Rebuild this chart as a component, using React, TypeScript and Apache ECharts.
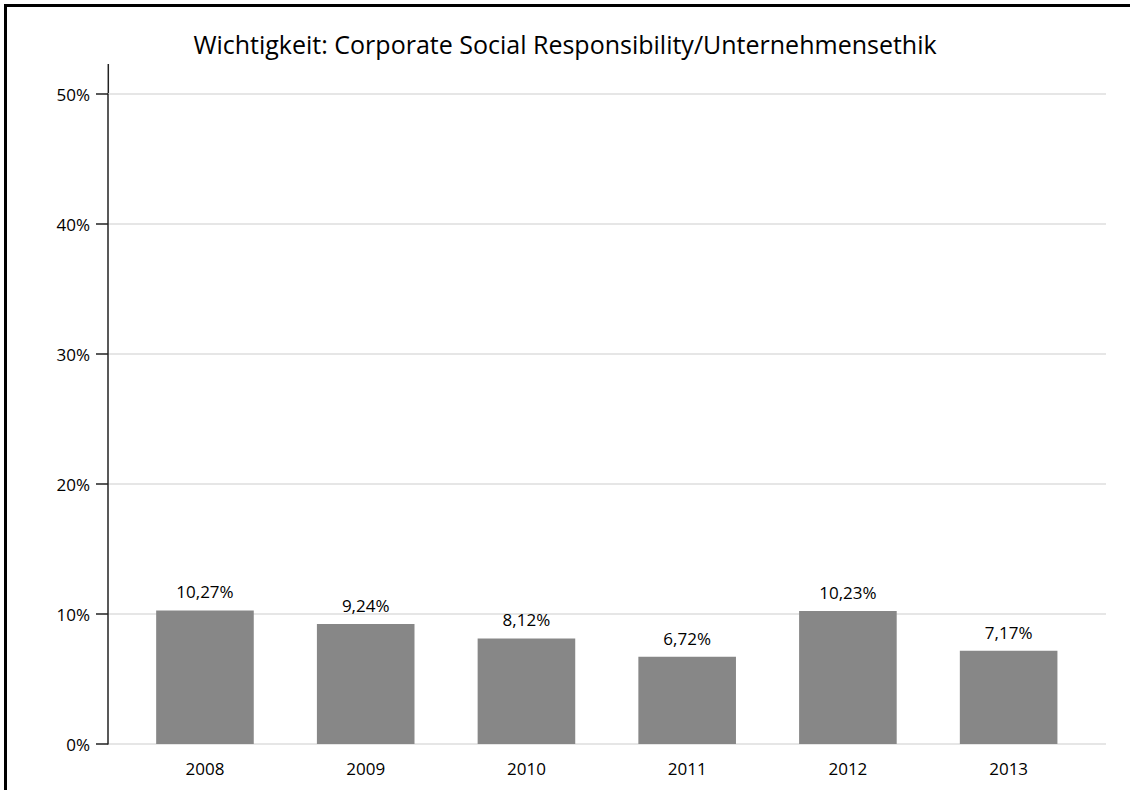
import React, { useEffect, useRef } from "react";
import * as echarts from "echarts";

const titleText = "Wichtigkeit: Corporate Social Responsibility/Unternehmensethik";
const years = ["2008", "2009", "2010", "2011", "2012", "2013"];
const values = [10.27, 9.24, 8.12, 6.72, 10.23, 7.17];
const yTicks = [0, 10, 20, 30, 40, 50];

const FONT = "'Open Sans', 'Noto Sans', sans-serif";

export default function App() {
  const ref = useRef<HTMLDivElement>(null);
  useEffect(() => {
    document.body.style.margin = "0";
    const chart = echarts.init(ref.current!, null, { renderer: "svg" });
    const yMin = yTicks[0];
    const yMax = yTicks[yTicks.length - 1];
    chart.setOption({
      animation: false,
      backgroundColor: "#ffffff",
      title: {
        text: titleText,
        left: 560,
        textAlign: "center",
        top: 26,
        textStyle: { fontFamily: FONT, fontSize: 25, fontWeight: "normal", color: "#000" },
      },
      grid: [
        { left: 108, right: 24, top: 94, bottom: 46 },
        { left: 124.6, right: 41, top: 94, bottom: 46 },
      ],
      xAxis: [
        { type: "category", gridIndex: 0, data: years, show: false },
        {
          type: "category",
          gridIndex: 1,
          data: years,
          axisLine: { show: false },
          axisTick: { show: false },
          axisLabel: { color: "#000", fontSize: 17, fontFamily: FONT, margin: 16 },
        },
      ],
      yAxis: [
        {
          type: "value",
          gridIndex: 0,
          min: yMin,
          max: yMax,
          interval: 10,
          axisLine: { show: true, lineStyle: { color: "#222", width: 1.5 } },
          axisTick: { show: true, length: 12, lineStyle: { color: "#222", width: 1.5 } },
          axisLabel: {
            color: "#000",
            fontSize: 17,
            fontFamily: FONT,
            margin: 18,
            formatter: (v: number) => v + "%",
          },
          splitLine: { show: true, lineStyle: { color: "#e6e6e6", width: 2 } },
        },
        { type: "value", gridIndex: 1, min: yMin, max: yMax, interval: 10, show: false, splitLine: { show: false } },
      ],
      series: [
        {
          type: "bar",
          xAxisIndex: 1,
          yAxisIndex: 1,
          data: values,
          barWidth: 97.6,
          itemStyle: { color: "#878787" },
          label: {
            show: true,
            position: "top",
            distance: 10,
            color: "#000",
            fontSize: 17,
            fontFamily: FONT,
            formatter: (p: any) => p.value.toFixed(2).replace(".", ",") + "%",
          },
        },
      ],
      graphic: [
        {
          type: "line",
          shape: { x1: 108.3, y1: 64, x2: 108.3, y2: 95 },
          style: { stroke: "#222", lineWidth: 1.5 },
        },
        {
          type: "rect",
          shape: { x: 5.5, y: 5.5, width: 1300, height: 1000 },
          style: { fill: "none", stroke: "#000", lineWidth: 3 },
          silent: true,
        },
      ],
    });
    return () => chart.dispose();
  }, []);
  return <div ref={ref} style={{ position: "absolute", left: 0, top: 0, width: 1130, height: 790 }} />;
}
